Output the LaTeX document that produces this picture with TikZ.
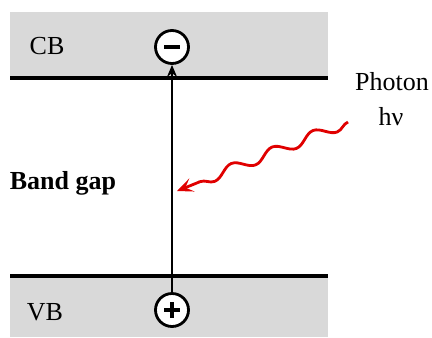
\documentclass[tikz,border=0pt]{standalone}
\usepackage{fontspec}
\setmainfont{Liberation Serif}
\usetikzlibrary{arrows.meta,decorations.pathmorphing}
\definecolor{bandgray}{HTML}{D9D9D9}
\definecolor{photonred}{HTML}{E00000}
\tikzset{
  band/.style={fill=bandgray,draw=none},
  edge/.style={line width=1.6pt,draw=black},
  label/.style={font=\fontsize{13}{15}\selectfont,inner sep=0pt},
  carrier/.style={circle,draw=black,line width=1.4pt,fill=white,minimum size=16.5pt,inner sep=0pt},
  minus/.style={carrier,path picture={
    \draw[line width=1.7pt] ([xshift=-3.8pt]path picture bounding box.center) -- ([xshift=3.8pt]path picture bounding box.center);}},
  plus/.style={carrier,path picture={
    \draw[line width=1.7pt] ([xshift=-3.8pt]path picture bounding box.center) -- ([xshift=3.8pt]path picture bounding box.center)
      ([yshift=-3.8pt]path picture bounding box.center) -- ([yshift=3.8pt]path picture bounding box.center);}},
  excite/.style={-{Stealth[length=6pt,width=5pt]},line width=1.4pt,draw=black},
  photon/.style={-{Stealth[length=8pt,width=7pt,inset=3.5pt]},line width=1.4pt,draw=photonred,
    decorate,decoration={snake,segment length=22pt,amplitude=2.6pt,post length=9pt}}
}
\begin{document}
\begin{tikzpicture}[x=0.5pt,y=-0.5pt]
  \useasboundingbox (0,0) rectangle (432,337);
  \fill[band] (10,12) rectangle (328,78);
  \fill[band] (10,276) rectangle (328,337);
  \coordinate (cbleft) at (10,78);
  \coordinate (cbright) at (328,78);
  \coordinate (vbleft) at (10,276);
  \coordinate (vbright) at (328,276);
  \draw[edge] (cbleft) -- (cbright);
  \draw[edge] (vbleft) -- (vbright);
  \node[minus] (electron) at (172,47) {};
  \node[plus] (hole) at (172,310) {};
  \draw[excite] (hole) -- (electron);
  \node[label] (cb) at (47,46) {CB};
  \node[label] (vb) at (45,312) {VB};
  \node[label,font=\fontsize{13}{15}\selectfont\bfseries] (gap) at (63,183) {Band gap};
  \node[label] (photonlbl) at (392,82) {Photon};
  \node[label] (hnu) at (391,117) {hν};
  \coordinate (wavestart) at (348,122);
  \coordinate (wavetip) at (177,191);
  \draw[photon] (wavestart) -- (wavetip);
\end{tikzpicture}
\end{document}
